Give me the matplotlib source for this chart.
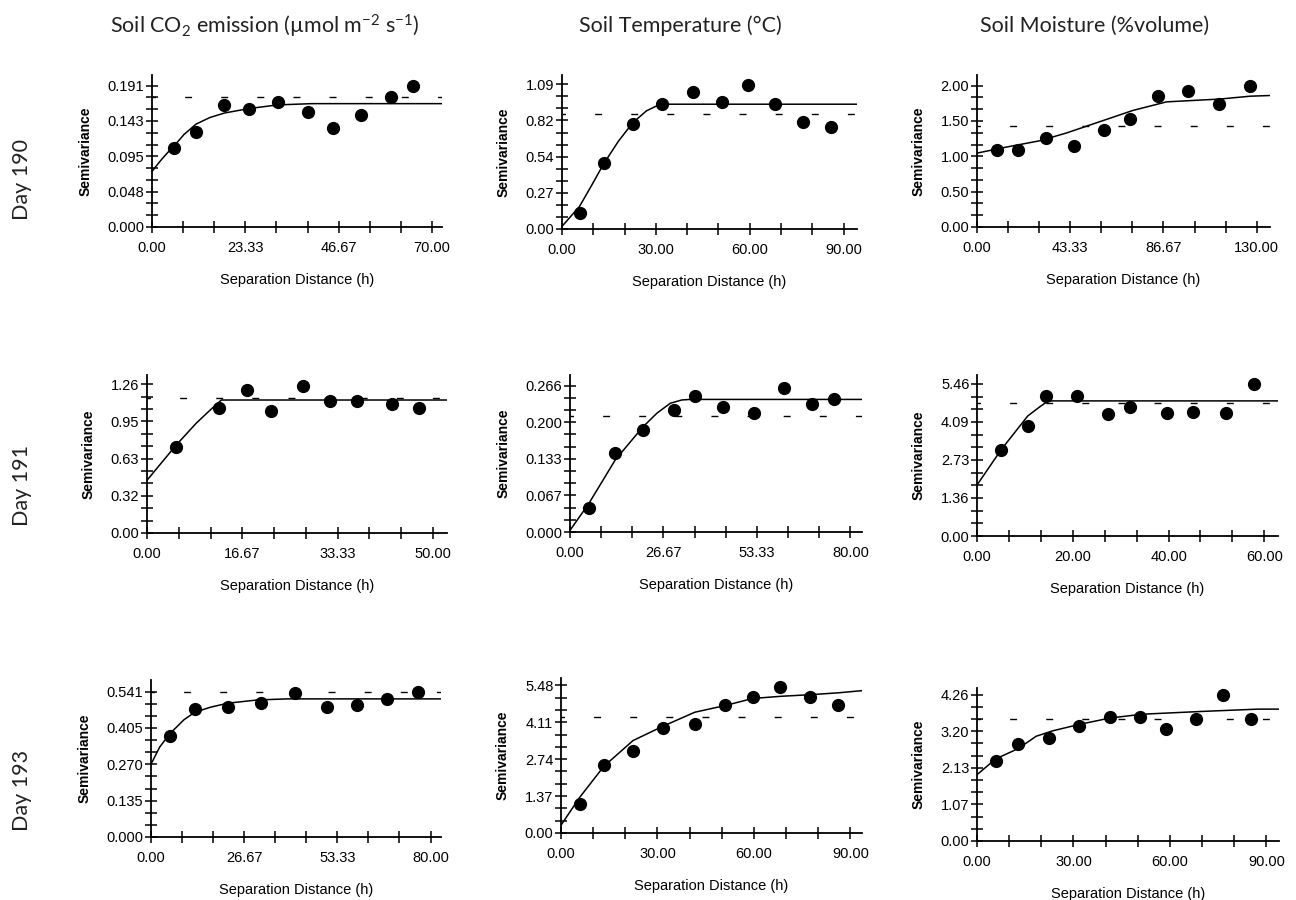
#Semivariograms of soil CO2 emission, temperature and moisture for three days (3 x 3 grid).

import numpy as np
import matplotlib
matplotlib.use('Agg')
from matplotlib import pyplot as plt


#Column titles and row labels
col_titles = [r'Soil CO$_2$ emission (µmol m$^{-2}$ s$^{-1}$)', 'Soil Temperature (°C)', 'Soil Moisture (%volume)']
row_labels = ['Day 190', 'Day 191', 'Day 193']


#Day 190
co2_190_h = [5.6, 11.0, 18.1, 24.2, 31.4, 39.0, 45.2, 52.3, 59.8, 65.3]
co2_190_g = [0.107, 0.128, 0.165, 0.159, 0.169, 0.155, 0.134, 0.152, 0.175, 0.191]
co2_190_fit_h = [0, 1.0, 2.5, 4.0, 5.6, 8.0, 11.0, 14.5, 18.1, 24.2, 31.4, 40.0, 72.5]
co2_190_fit_g = [0.075, 0.082, 0.092, 0.101, 0.110, 0.125, 0.139, 0.148, 0.154, 0.160, 0.165, 0.1667, 0.1667]
co2_190_var = 0.175

temp_190_h = [5.6, 13.3, 22.6, 32.0, 41.8, 51.3, 59.3, 68.2, 76.9, 86.0]
temp_190_g = [0.12, 0.50, 0.79, 0.94, 1.03, 0.96, 1.085, 0.94, 0.805, 0.77]
temp_190_fit_h = [0, 5.6, 9.5, 13.3, 18.0, 22.6, 27.0, 31.4, 94.3]
temp_190_fit_g = [0.02, 0.17, 0.33, 0.49, 0.66, 0.80, 0.89, 0.94, 0.94]
temp_190_var = 0.87

moist_190_h = [9.3, 19.1, 32.0, 45.0, 59.0, 71.1, 84.2, 98.2, 112.6, 126.9]
moist_190_g = [1.09, 1.09, 1.26, 1.15, 1.37, 1.53, 1.85, 1.93, 1.74, 1.99]
moist_190_fit_h = [0, 13.6, 29.2, 41.6, 57.1, 72.6, 88.1, 100.5, 113.0, 126.9, 136.2]
moist_190_fit_g = [1.045, 1.13, 1.22, 1.33, 1.49, 1.65, 1.77, 1.79, 1.81, 1.85, 1.86]
moist_190_var = 1.43

#Day 191
co2_191_h = [5.1, 12.6, 17.5, 21.6, 27.3, 32.0, 36.8, 42.8, 47.5]
co2_191_g = [0.725, 1.056, 1.21, 1.03, 1.25, 1.12, 1.12, 1.093, 1.056]
co2_191_fit_h = [0, 5.1, 8.6, 11.0, 13.0, 52.45]
co2_191_fit_g = [0.447, 0.745, 0.93, 1.04, 1.127, 1.127]
co2_191_var = 1.14

temp_191_h = [5.4, 12.9, 20.8, 29.8, 35.7, 43.6, 52.4, 61.0, 69.1, 75.2]
temp_191_g = [0.044, 0.143, 0.186, 0.222, 0.248, 0.228, 0.217, 0.262, 0.233, 0.241]
temp_191_fit_h = [0, 5.4, 12.9, 20.8, 24.8, 28.6, 31.9, 34.3, 83.3]
temp_191_fit_g = [0.003, 0.052, 0.131, 0.191, 0.216, 0.234, 0.240, 0.241, 0.241]
temp_191_var = 0.211

moist_191_h = [5.1, 10.6, 14.4, 20.8, 27.4, 31.9, 39.6, 45.1, 51.9, 57.8]
moist_191_g = [3.09, 3.95, 5.01, 5.01, 4.38, 4.62, 4.41, 4.44, 4.41, 5.46]
moist_191_fit_h = [0, 5.1, 10.6, 13.2, 14.9, 62.85]
moist_191_fit_g = [1.83, 3.11, 4.31, 4.65, 4.85, 4.85]
moist_191_var = 4.79

#Day 193
co2_193_h = [5.3, 12.5, 22.0, 31.5, 41.1, 50.4, 59.0, 67.6, 76.5]
co2_193_g = [0.376, 0.475, 0.485, 0.498, 0.535, 0.485, 0.492, 0.514, 0.541]
co2_193_fit_h = [0, 2.5, 5.3, 9.4, 12.5, 17.0, 22.0, 30.4, 39.0, 83.0]
co2_193_fit_g = [0.271, 0.335, 0.383, 0.436, 0.464, 0.483, 0.498, 0.510, 0.514, 0.514]
co2_193_var = 0.5385

temp_193_h = [5.8, 13.3, 22.4, 31.7, 41.6, 51.1, 59.6, 68.2, 77.4, 86.2]
temp_193_g = [1.08, 2.51, 3.06, 3.90, 4.05, 4.73, 5.04, 5.41, 5.04, 4.74]
temp_193_fit_h = [0, 5.8, 13.3, 22.4, 31.7, 41.6, 51.1, 59.6, 68.2, 77.4, 86.2, 93.6]
temp_193_fit_g = [0.29, 1.32, 2.47, 3.43, 3.96, 4.48, 4.73, 4.99, 5.07, 5.13, 5.20, 5.28]
temp_193_var = 4.29

moist_193_h = [5.8, 12.8, 22.4, 31.6, 41.3, 50.8, 58.9, 68.0, 76.5, 85.3]
moist_193_g = [2.34, 2.82, 3.00, 3.34, 3.60, 3.60, 3.27, 3.56, 4.24, 3.55]
moist_193_fit_h = [0, 5.8, 12.8, 18.4, 23.6, 31.6, 41.3, 48.5, 53.2, 69.3, 87.4, 93.9]
moist_193_fit_g = [1.93, 2.39, 2.69, 3.05, 3.21, 3.39, 3.58, 3.66, 3.70, 3.77, 3.84, 3.84]
moist_193_var = 3.55


#Tick labels for each panel (row by row)
x_labels = [['0.00', '23.33', '46.67', '70.00'], ['0.00', '30.00', '60.00', '90.00'], ['0.00', '43.33', '86.67', '130.00'],
            ['0.00', '16.67', '33.33', '50.00'], ['0.00', '26.67', '53.33', '80.00'], ['0.00', '20.00', '40.00', '60.00'],
            ['0.00', '26.67', '53.33', '80.00'], ['0.00', '30.00', '60.00', '90.00'], ['0.00', '30.00', '60.00', '90.00']]
y_labels = [['0.000', '0.048', '0.095', '0.143', '0.191'], ['0.00', '0.27', '0.54', '0.82', '1.09'], ['0.00', '0.50', '1.00', '1.50', '2.00'],
            ['0.00', '0.32', '0.63', '0.95', '1.26'], ['0.000', '0.067', '0.133', '0.200', '0.266'], ['0.00', '1.36', '2.73', '4.09', '5.46'],
            ['0.000', '0.135', '0.270', '0.405', '0.541'], ['0.00', '1.37', '2.74', '4.11', '5.48'], ['0.00', '1.07', '2.13', '3.20', '4.26']]


panels = [
    (co2_190_h, co2_190_g, co2_190_fit_h, co2_190_fit_g, co2_190_var),
    (temp_190_h, temp_190_g, temp_190_fit_h, temp_190_fit_g, temp_190_var),
    (moist_190_h, moist_190_g, moist_190_fit_h, moist_190_fit_g, moist_190_var),
    (co2_191_h, co2_191_g, co2_191_fit_h, co2_191_fit_g, co2_191_var),
    (temp_191_h, temp_191_g, temp_191_fit_h, temp_191_fit_g, temp_191_var),
    (moist_191_h, moist_191_g, moist_191_fit_h, moist_191_fit_g, moist_191_var),
    (co2_193_h, co2_193_g, co2_193_fit_h, co2_193_fit_g, co2_193_var),
    (temp_193_h, temp_193_g, temp_193_fit_h, temp_193_fit_g, temp_193_var),
    (moist_193_h, moist_193_g, moist_193_fit_h, moist_193_fit_g, moist_193_var),
]


#Axes boxes in pixels (left, right, bottom, top) and axis limits
W, H = 1296, 900
boxes = [(152, 442, 227, 75), (562, 857, 229, 75), (977, 1270, 227, 75),
         (147, 447, 533, 375), (570, 862, 532, 375), (977, 1278, 536, 375),
         (151, 441, 837, 680), (561, 862, 833, 678), (977, 1279, 841, 688)]
x_max = [72.5, 94.3, 136.2, 52.45, 83.3, 62.85, 83.0, 93.6, 93.9]
y_max = [0.2054, 1.16, 2.15, 1.339, 0.2854, 5.78, 0.5843, 5.75, 4.455]


plt.rcParams['mathtext.default'] = 'regular'
plt.rcParams['lines.scale_dashes'] = False

fig = plt.figure(figsize=(W/100, H/100), dpi=100)

tick_font = {'family': 'Liberation Sans', 'size': 10.5}

for i, (h, g, fh, fg, var) in enumerate(panels):
    l, r, b, t = boxes[i]
    ax = fig.add_axes([l/W, 1 - b/H, (r - l)/W, (b - t)/H])

    #Sample variance as a sparse dashed line
    ax.axhline(var, color='black', lw=1.0, linestyle=(2.5, (5, 21)))
    #Fitted model
    ax.plot(fh, fg, color='black', lw=1.1)
    #Experimental semivariance
    ax.plot(h, g, 'o', color='black', ms=8.5)

    ax.set_xlim(0, x_max[i])
    ax.set_ylim(0, y_max[i])

    xtop = float(x_labels[i][-1])
    ytop = float(y_labels[i][-1])
    ax.set_xticks(np.linspace(0, xtop, 4))
    ax.set_xticks(np.linspace(0, xtop, 10), minor=True)
    ax.set_xticklabels(x_labels[i], fontdict=tick_font)
    ax.set_yticks(np.linspace(0, ytop, 5))
    ax.set_yticks(np.linspace(0, ytop, 13), minor=True)
    ax.set_yticklabels(y_labels[i], fontdict=tick_font)

    ax.tick_params(axis='y', which='both', direction='inout', length=9, width=1.1, pad=1)
    ax.tick_params(axis='x', which='both', direction='inout', length=8, width=1.1, pad=6)

    for s in ['top', 'right']:
        ax.spines[s].set_visible(False)
    for s in ['left', 'bottom']:
        ax.spines[s].set_linewidth(1.3)
    ax.patch.set_visible(False)

    ax.set_xlabel('Separation Distance (h)', family='Liberation Sans', fontsize=10.5, labelpad=13)
    ax.set_ylabel('Semivariance', family='Liberation Sans', fontsize=10, fontweight='bold', labelpad=11)


#Column titles
title_x = [265, 680, 1095]
for x, txt in zip(title_x, col_titles):
    fig.text(x/W, 1 - 26/H, txt, ha='center', va='center', fontsize=15.5,
             family=['Lato', 'DejaVu Sans'], color='#222222')

#Row labels
row_y = [180, 485, 790]
for y, txt in zip(row_y, row_labels):
    fig.text(22/W, 1 - y/H, txt, ha='center', va='center', rotation=90, fontsize=15.5,
             family=['Lato', 'DejaVu Sans'], color='#222222')


fig.savefig('out.png', dpi=100, facecolor='white')
